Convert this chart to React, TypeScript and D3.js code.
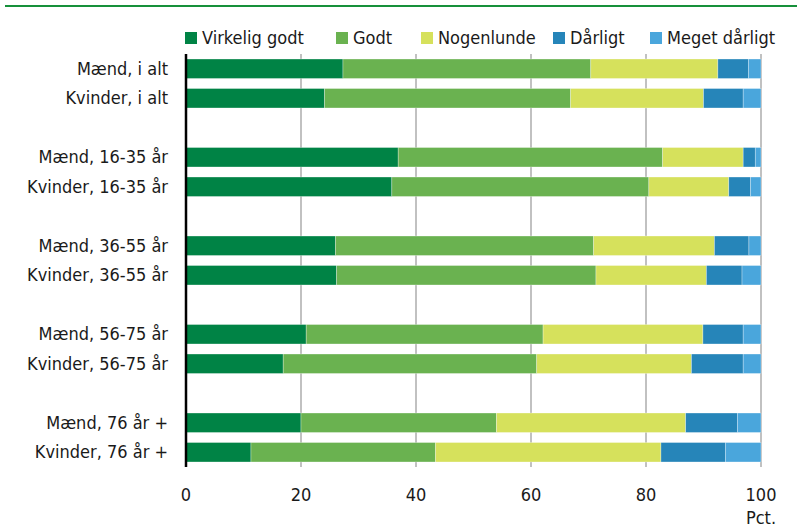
import React from "react";
import * as d3 from "d3";

const categories = [
  "Mænd, i alt",
  "Kvinder, i alt",
  "Mænd, 16-35 år",
  "Kvinder, 16-35 år",
  "Mænd, 36-55 år",
  "Kvinder, 36-55 år",
  "Mænd, 56-75 år",
  "Kvinder, 56-75 år",
  "Mænd, 76 år +",
  "Kvinder, 76 år +",
];

const seriesNames = ["Virkelig godt", "Godt", "Nogenlunde", "Dårligt", "Meget dårligt"];
const seriesColors = ["#008345", "#6ab250", "#d6e15c", "#2685b9", "#4aa6dc"];

const virkeligGodt = [27.3, 24.1, 36.9, 35.8, 26.0, 26.2, 20.9, 16.9, 20.0, 11.3];
const godt = [43.1, 42.8, 46.0, 44.7, 44.9, 45.1, 41.2, 44.1, 34.0, 32.1];
const nogenlunde = [22.1, 23.1, 14.0, 13.9, 21.0, 19.2, 27.8, 26.9, 32.9, 39.2];
const daarligt = [5.3, 6.9, 2.1, 3.8, 6.0, 6.2, 7.0, 9.0, 9.0, 11.2];
const megetDaarligt = [2.2, 3.1, 1.0, 1.8, 2.1, 3.3, 3.1, 3.1, 4.1, 6.2];

const xTicks = [0, 20, 40, 60, 80, 100];

// slot order including empty gap slots between groups
const slots = [
  categories[0], categories[1], "gap1",
  categories[2], categories[3], "gap2",
  categories[4], categories[5], "gap3",
  categories[6], categories[7], "gap4",
  categories[8], categories[9],
];

const W = 801;
const H = 532;
const FONT = "'DejaVu Sans Condensed', 'DejaVu Sans', sans-serif";

export default function App() {
  const x = d3.scaleLinear().domain([0, 100]).range([186, 761]);
  const y = d3
    .scaleBand<string>()
    .domain(slots)
    .range([54, 467])
    .paddingInner(0.34)
    .paddingOuter(0.17);

  const table = categories.map((c, i) => ({
    cat: c,
    "Virkelig godt": virkeligGodt[i],
    Godt: godt[i],
    Nogenlunde: nogenlunde[i],
    "Dårligt": daarligt[i],
    "Meget dårligt": megetDaarligt[i],
  }));
  const stacked = d3.stack<any>().keys(seriesNames)(table);

  const legendX = [185, 336, 421, 553, 650];

  return (
    <svg
      width={W}
      height={H}
      style={{ position: "absolute", left: 0, top: 0, background: "#fff" }}
      fontFamily={FONT}
    >
      <line x1={5} x2={797} y1={6} y2={6} stroke="#16903a" strokeWidth={2} />

      {/* legend */}
      {seriesNames.map((s, i) => (
        <g key={s}>
          <rect x={legendX[i]} y={32} width={12} height={12} fill={seriesColors[i]} />
          <text x={legendX[i] + 17} y={43.5} fontSize={18} fill="#1a1a1a">
            {s}
          </text>
        </g>
      ))}

      {/* gridlines */}
      {xTicks.slice(1).map((t) => (
        <line
          key={t}
          x1={x(t)}
          x2={x(t)}
          y1={54}
          y2={467}
          stroke="#a0a0a0"
          strokeWidth={1.3}
        />
      ))}

      {/* bars */}
      {stacked.map((layer, si) => (
        <g key={layer.key} fill={seriesColors[si]}>
          {layer.map((d, i) => (
            <rect
              key={i}
              x={x(d[0])}
              y={y(categories[i])}
              width={x(d[1]) - x(d[0])}
              height={y.bandwidth()}
              stroke="#ffffff"
              strokeOpacity={0.5}
              strokeWidth={0.6}
            />
          ))}
        </g>
      ))}

      {/* axis line */}
      <line x1={x(0)} x2={x(0)} y1={54} y2={467} stroke="#000" strokeWidth={2.5} />

      {/* category labels */}
      {categories.map((c) => (
        <text
          key={c}
          x={168}
          y={(y(c) as number) + y.bandwidth() / 2 + 6}
          textAnchor="end"
          fontSize={18}
          fill="#1a1a1a"
        >
          {c}
        </text>
      ))}

      {/* x tick labels */}
      {xTicks.map((t) => (
        <text key={t} x={x(t)} y={501} textAnchor="middle" fontSize={18} fill="#1a1a1a">
          {t}
        </text>
      ))}
      <text x={x(100)} y={524} textAnchor="middle" fontSize={18} fill="#1a1a1a">
        Pct.
      </text>
    </svg>
  );
}
